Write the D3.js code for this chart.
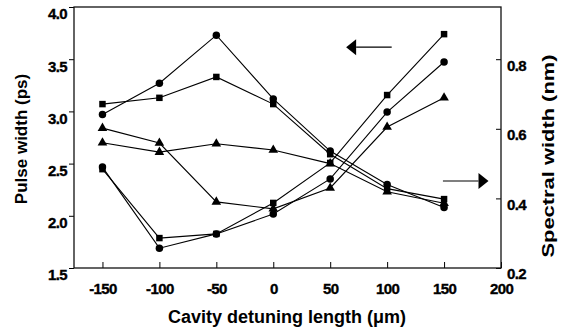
<!DOCTYPE html>
<html>
<head>
<meta charset="utf-8">
<script src="https://cdn.jsdelivr.net/npm/d3@7"></script>
<style>
  body { margin: 0; background: #fff; }
  .tick text { font-family: "Liberation Sans", Arial, sans-serif; font-weight: bold; font-size: 15px; letter-spacing: -0.6px; stroke: #000; stroke-width: 0.35px; }
  .title { font-family: "Liberation Sans", Arial, sans-serif; font-weight: bold; }
</style>
</head>
<body>
<div id="chart"></div>
<script>
// detuning positions (um)
const detuning = [-150, -100, -50, 0, 50, 100, 150];

// pulse width (ps), left axis
const pulseCircle = [2.97, 3.27, 3.73, 3.12, 2.62, 2.30, 2.08];
const pulseSquare = [3.07, 3.13, 3.33, 3.07, 2.59, 2.26, 2.16];
const pulseTriangle = [2.70, 2.61, 2.69, 2.63, 2.50, 2.23, 2.12];

// spectral width (nm), right axis
const specSquare = [0.484, 0.286, 0.298, 0.387, 0.502, 0.697, 0.872];
const specCircle = [0.490, 0.257, 0.298, 0.355, 0.456, 0.648, 0.792];
const specTriangle = [0.602, 0.559, 0.390, 0.370, 0.430, 0.605, 0.689];

const xTicks = [-150, -100, -50, 0, 50, 100, 150, 200];
const leftTicks = [1.5, 2.0, 2.5, 3.0, 3.5, 4.0];
const rightTicks = [0.2, 0.4, 0.6, 0.8];

// arrows: [x from, x tip, y] in data units
const leftArrow = [104, 64, 3.615];
const rightArrow = [149, 189, 0.45];

const width = 563;
const height = 332;
const margin = {top: 7, right: 62, bottom: 64, left: 74};
const w = width - margin.left - margin.right;
const h = height - margin.top - margin.bottom;

const svg = d3.select('#chart').append('svg')
  .attr('width', width)
  .attr('height', height);

const g = svg.append('g')
  .attr('transform', `translate(${margin.left},${margin.top})`);

const x = d3.scaleLinear().domain([-175, 200]).range([0, w]);
const yL = d3.scaleLinear().domain([1.5, 4.0]).range([h, 0]);
const yR = d3.scaleLinear().domain([0.2, 0.95]).range([h, 0]);

// axes (plain hyphen for negatives, like the original)
const xAxis = g.append('g')
  .attr('transform', `translate(0,${h})`)
  .call(d3.axisBottom(x).tickValues(xTicks).tickFormat((d) => String(d))
    .tickSizeInner(-6).tickSizeOuter(0).tickPadding(15));

const leftAxis = g.append('g')
  .call(d3.axisLeft(yL).tickValues(leftTicks).tickFormat(d3.format('.1f'))
    .tickSizeInner(5).tickSizeOuter(0).tickPadding(2));

const rightAxis = g.append('g')
  .attr('transform', `translate(${w},0)`)
  .call(d3.axisRight(yR).tickValues(rightTicks).tickFormat(d3.format('.1f'))
    .tickSizeInner(-5).tickSizeOuter(0).tickPadding(6));

[xAxis, leftAxis, rightAxis].forEach((a) => {
  a.select('.domain').remove();
  a.attr('font-family', null).attr('font-size', null);
  a.selectAll('.tick line').attr('stroke', '#000');
  a.selectAll('.tick text').attr('fill', '#000');
});
leftAxis.selectAll('.tick text').attr('y', 7);
rightAxis.selectAll('.tick text').attr('y', 6);

// frame
g.append('rect')
  .attr('width', w)
  .attr('height', h)
  .attr('fill', 'none')
  .attr('stroke', '#111')
  .attr('stroke-width', 1.3);

// series
const series = [
  {vals: pulseCircle, y: yL, shape: 'circle'},
  {vals: pulseSquare, y: yL, shape: 'square'},
  {vals: pulseTriangle, y: yL, shape: 'triangle'},
  {vals: specSquare, y: yR, shape: 'square'},
  {vals: specCircle, y: yR, shape: 'circle'},
  {vals: specTriangle, y: yR, shape: 'triangle'},
];

const symbols = {
  circle: d3.symbol().type(d3.symbolCircle).size(44),
  square: d3.symbol().type(d3.symbolSquare).size(42),
  triangle: d3.symbol().type(d3.symbolTriangle).size(40),
};

series.forEach((s) => {
  const pts = detuning.map((d, i) => [x(d), s.y(s.vals[i])]);
  g.append('path')
    .attr('d', d3.line()(pts))
    .attr('fill', 'none')
    .attr('stroke', '#000')
    .attr('stroke-width', 1.1);
  g.selectAll(null)
    .data(pts)
    .enter().append('path')
    .attr('transform', (p) => `translate(${p[0]},${p[1]})`)
    .attr('d', symbols[s.shape])
    .attr('fill', '#000');
});

// arrows
const drawArrow = (x1, x2, yy) => {
  const dir = x2 > x1 ? 1 : -1;
  const base = x2 - dir * 10;
  g.append('line')
    .attr('x1', x1).attr('x2', base)
    .attr('y1', yy).attr('y2', yy)
    .attr('stroke', '#000')
    .attr('stroke-width', 1.2);
  g.append('path')
    .attr('d', `M${x2},${yy}L${base},${yy - 8}L${base},${yy + 8}Z`)
    .attr('fill', '#000');
};
drawArrow(x(leftArrow[0]), x(leftArrow[1]), yL(leftArrow[2]));
drawArrow(x(rightArrow[0]), x(rightArrow[1]), yR(rightArrow[2]));

// titles
svg.append('text')
  .attr('class', 'title')
  .attr('x', 287)
  .attr('y', 323)
  .attr('text-anchor', 'middle')
  .attr('font-size', 18)
  .text('Cavity detuning length (μm)');

svg.append('text')
  .attr('class', 'title')
  .attr('transform', 'translate(27,139) rotate(-90)')
  .attr('text-anchor', 'middle')
  .attr('font-size', 17)
  .text('Pulse width (ps)');

svg.append('text')
  .attr('class', 'title')
  .attr('transform', 'translate(554,156) rotate(-90)')
  .attr('text-anchor', 'middle')
  .attr('font-size', 17)
  .attr('textLength', 203)
  .attr('lengthAdjust', 'spacingAndGlyphs')
  .text('Spectral width (nm)');
</script>
</body>
</html>
